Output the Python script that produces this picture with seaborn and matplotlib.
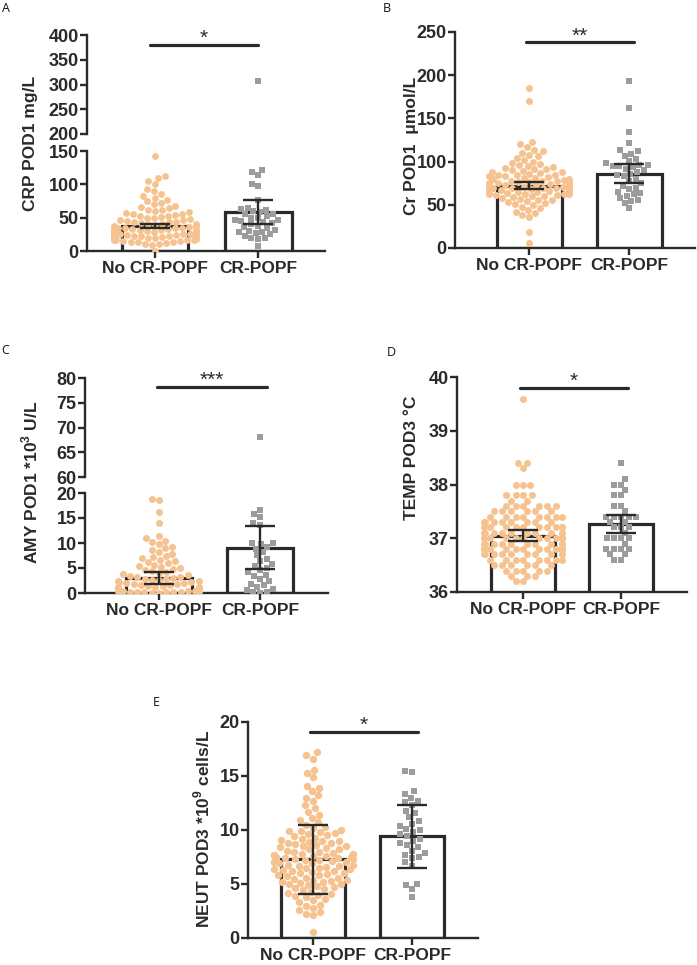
import numpy as np
import pandas as pd
import matplotlib
matplotlib.use('Agg')
import matplotlib.pyplot as plt
import seaborn as sns

sns.set_theme(style='white')
plt.rcParams['font.family'] = ['Liberation Sans', 'DejaVu Sans']
plt.rcParams['font.weight'] = 'bold'
plt.rcParams['mathtext.fontset'] = 'custom'
plt.rcParams['mathtext.rm'] = 'Liberation Sans:bold'
plt.rcParams['mathtext.bf'] = 'Liberation Sans:bold'

# ---------------- data ----------------
groups = ['No CR-POPF', 'CR-POPF']

# A: CRP POD1 mg/L
crp_no = [142, 113, 110, 105, 101, 93, 90, 86, 83, 80, 77, 75, 72, 70, 68, 66, 64, 62, 61,
          60, 58, 57, 56, 55, 54, 53, 52, 51, 50, 49, 48, 47, 46, 45, 44, 44, 43, 42, 41, 40,
          40, 39, 38, 38, 37, 36, 36, 35, 35, 34, 34, 33, 33, 32, 32, 31, 31, 30, 30, 30, 29,
          29, 28, 28, 28, 27, 27, 26, 26, 26, 25, 25, 24, 24, 24, 23, 23, 22, 22, 22, 21, 21,
          20, 20, 19, 19, 18, 18, 17, 17, 16, 16, 15, 15, 14, 14, 13, 12, 11, 10, 9, 0]
crp_cr = [307, 122, 118, 114, 101, 97, 76, 65, 63, 62, 60, 58, 56, 55, 52, 50, 49, 47, 46,
          45, 44, 42, 40, 38, 36, 35, 32, 30, 29, 28, 27, 25, 22, 20, 19, 18, 8]
crp_mean = [38, 58]
crp_err = [3, 18]

# B: Cr POD1 umol/L
cr_no = [185, 170, 123, 120, 117, 114, 112, 110, 108, 106, 104, 102, 100, 98, 97, 96, 95, 94,
         93, 92, 91, 90, 89, 88, 88, 87, 86, 85, 85, 84, 83, 83, 82, 81, 81, 80, 80, 79, 78,
         78, 77, 77, 76, 76, 75, 75, 74, 74, 73, 73, 72, 72, 71, 71, 70, 70, 69, 69, 68, 68,
         67, 67, 66, 66, 65, 65, 64, 64, 63, 63, 62, 62, 61, 61, 60, 60, 59, 58, 57, 56, 55,
         54, 53, 52, 51, 50, 48, 46, 44, 42, 40, 38, 36, 19, 6]
cr_cr = [193, 162, 134, 121, 113, 112, 109, 107, 103, 101, 98, 96, 96, 95, 95, 94, 92, 90,
         88, 86, 85, 83, 80, 78, 75, 72, 70, 68, 65, 64, 62, 60, 58, 56, 54, 52, 46]
cr_mean = [72, 86]
cr_err = [4, 11]

# C: AMY POD1 *10^3 U/L
amy_no = [18.9, 18.7, 16.3, 14.0, 11.5, 11.0, 10.5, 10.2, 9.8, 9.3, 9.0, 8.6, 8.2, 7.9, 7.5,
          7.2, 7.0, 6.7, 6.4, 6.2, 6.0, 5.7, 5.5, 5.3, 5.0, 4.8, 4.6, 4.4, 4.2, 4.0, 3.8, 3.6,
          3.5, 3.3, 3.2, 3.0, 2.9, 2.8, 2.7, 2.6, 2.5, 2.4, 2.3, 2.2, 2.1, 2.0, 1.9, 1.8, 1.7,
          1.6, 1.5, 1.4, 1.3, 1.2, 1.2, 1.1, 1.0, 1.0, 0.9, 0.9, 0.8, 0.8, 0.8, 0.7, 0.7, 0.6,
          0.6, 0.6, 0.5, 0.5, 0.5, 0.4, 0.4, 0.4, 0.3, 0.3, 0.3, 0.2, 0.2, 0.2, 0.1, 0.1]
amy_cr = [68, 16.7, 15.9, 15.3, 14.0, 13.7, 10.1, 10.0, 9.9, 9.3, 8.9, 8.2, 7.6, 6.8, 6.4,
          5.9, 5.5, 5.0, 4.7, 4.2, 3.7, 3.4, 2.9, 2.5, 1.9, 1.6, 1.3, 0.9, 0.6, 0.3, 0.2, 0.1]
amy_mean = [3.1, 9.1]
amy_err = [1.2, 4.3]

# D: TEMP POD3 degC (value levels and how many dots sit on each)
temp_no_levels = [39.6, 38.4, 38.3, 38.0, 37.8, 37.7, 37.6, 37.5, 37.4, 37.3, 37.2, 37.1,
                  37.0, 36.9, 36.8, 36.7, 36.6, 36.5, 36.4, 36.3, 36.2]
temp_no_counts = [1, 2, 1, 3, 4, 2, 6, 6, 8, 8, 10, 10, 12, 10, 13, 10, 8, 6, 5, 3, 2]
temp_cr_levels = [38.4, 38.1, 38.0, 37.9, 37.8, 37.6, 37.5, 37.4, 37.3, 37.2, 37.1, 37.0,
                  36.9, 36.8, 36.7, 36.6]
temp_cr_counts = [1, 1, 2, 1, 2, 2, 1, 5, 2, 3, 1, 4, 1, 4, 2, 2]
temp_mean = [37.05, 37.27]
temp_err = [0.11, 0.17]

# E: NEUT POD3 *10^9 cells/L
neut_no = [17.2, 16.9, 16.6, 15.6, 15.3, 14.9, 14.1, 13.9, 13.6, 13.2, 13.0, 12.7, 12.3, 12.0,
           11.7, 11.4, 11.1, 10.9, 10.7, 10.5, 10.3, 10.2, 10.0, 9.9, 9.9, 9.8, 9.7, 9.6, 9.5,
           9.4, 9.3, 9.2, 9.1, 9.0, 9.0, 8.9, 8.8, 8.8, 8.7, 8.6, 8.5, 8.5, 8.4, 8.3, 8.2, 8.2,
           8.1, 8.0, 8.0, 7.9, 7.8, 7.8, 7.7, 7.7, 7.6, 7.6, 7.5, 7.5, 7.4, 7.4, 7.3, 7.3, 7.2,
           7.2, 7.1, 7.0, 7.0, 6.9, 6.9, 6.8, 6.8, 6.7, 6.7, 6.6, 6.5, 6.5, 6.4, 6.4, 6.3, 6.2,
           6.2, 6.1, 6.0, 6.0, 5.9, 5.8, 5.8, 5.7, 5.6, 5.6, 5.5, 5.4, 5.4, 5.3, 5.2, 5.2, 5.1,
           5.0, 5.0, 4.9, 4.8, 4.7, 4.6, 4.5, 4.4, 4.3, 4.2, 4.1, 4.0, 3.9, 3.8, 3.6, 3.5, 3.3,
           3.1, 3.0, 2.8, 2.6, 2.4, 2.2, 2.1, 0.6]
neut_cr = [15.5, 15.4, 13.6, 13.3, 13.0, 12.7, 12.6, 12.3, 11.8, 11.6, 11.2, 10.8, 10.6, 10.4,
           10.1, 10.0, 9.8, 9.6, 9.4, 9.2, 9.0, 8.8, 8.6, 8.4, 8.1, 7.9, 7.7, 7.5, 7.4, 7.0,
           6.7, 5.0, 4.9, 4.5, 3.8]
neut_mean = [7.3, 9.4]
neut_err = [3.2, 2.9]

sig_labels = ['*', '**', '***', '*', '*']
sig_heights = [380, 238, 78.2, 39.8, 19.1]

# ---------------- styling ----------------
ORANGE = '#F6C28F'
GRAY = '#9C9C9C'
DARK = '#2a2a2a'
W, H = 697, 965

fig = plt.figure(figsize=(W / 100, H / 100), dpi=100)


def ax_at(x0, y0, x1, y1):
    return fig.add_axes([x0 / W, 1 - y1 / H, (x1 - x0) / W, (y1 - y0) / H])


def make_df(no_vals, cr_vals):
    return pd.DataFrame({
        'group': [groups[0]] * len(no_vals) + [groups[1]] * len(cr_vals),
        'value': list(no_vals) + list(cr_vals),
    })


def style_axis(ax, xlim, ylim, yticks, show_x=True):
    ax.set_xlim(*xlim)
    ax.set_ylim(*ylim)
    ax.set_yticks(yticks)
    ax.set_xlabel('')
    ax.set_ylabel('')
    for s in ['top', 'right']:
        ax.spines[s].set_visible(False)
    ax.spines['left'].set_linewidth(1.7)
    ax.spines['left'].set_color(DARK)
    ax.tick_params(axis='y', left=True, length=5, width=1.7, color=DARK,
                   labelsize=13, labelcolor=DARK, pad=1)
    if show_x:
        ax.spines['bottom'].set_linewidth(1.7)
        ax.spines['bottom'].set_color(DARK)
        ax.tick_params(axis='x', bottom=True, length=5, width=1.7, color=DARK,
                       labelsize=12.5, labelcolor=DARK, pad=2)
    else:
        ax.spines['bottom'].set_visible(False)
        ax.tick_params(axis='x', bottom=False, labelbottom=False)
    for lab in ax.get_xticklabels() + ax.get_yticklabels():
        lab.set_fontweight('bold')
    ax.set_facecolor('none')


def draw_points(ax, df, size):
    sns.swarmplot(data=df[df.group == groups[0]], x='group', y='value', order=groups,
                  color=ORANGE, size=size, linewidth=0, marker='o', ax=ax,
                  warn_thresh=1.0, zorder=3)
    sns.swarmplot(data=df[df.group == groups[1]], x='group', y='value', order=groups,
                  color=GRAY, size=size * 0.95, linewidth=0, marker='s', ax=ax,
                  warn_thresh=1.0, zorder=3)


def draw_bars(ax, means, errs):
    sns.barplot(x=groups, y=means, order=groups, color='white', saturation=1,
                edgecolor=DARK, linewidth=2.3, width=0.65, errorbar=None, ax=ax, zorder=1)
    ax.errorbar(x=[0, 1], y=means, yerr=errs, fmt='none', ecolor=DARK,
                elinewidth=1.7, capsize=11, capthick=1.7, zorder=5)


def draw_sig(ax, label, y, x0, x1):
    ax.plot([x0, x1], [y, y], color=DARK, lw=2.3, clip_on=False, zorder=6)
    ax.annotate(label, ((x0 + x1) / 2, y), xytext=(0, 0.5), textcoords='offset points',
                ha='center', va='baseline', fontsize=15, fontweight='normal',
                color=DARK, annotation_clip=False)


# ---- Panel A (broken axis) ----
dfA = make_df(crp_no, crp_cr)
axA_lo = ax_at(87, 151, 325, 251)
axA_hi = ax_at(87, 35, 325, 134)
draw_bars(axA_lo, crp_mean, crp_err)
draw_points(axA_lo, dfA, 4.9)
draw_points(axA_hi, dfA, 4.9)
style_axis(axA_lo, (-0.66, 1.65), (0, 150), [0, 50, 100, 150])
style_axis(axA_hi, (-0.66, 1.65), (200, 400), [200, 250, 300, 350, 400], show_x=False)
draw_sig(axA_hi, sig_labels[0], sig_heights[0], -0.05, 1.0)

# ---- Panel B ----
dfB = make_df(cr_no, cr_cr)
axB = ax_at(455, 32, 695, 248)
draw_bars(axB, cr_mean, cr_err)
draw_points(axB, dfB, 5.0)
style_axis(axB, (-0.74, 1.66), (0, 250), [0, 50, 100, 150, 200, 250])
draw_sig(axB, sig_labels[1], sig_heights[1], -0.03, 1.05)

# ---- Panel C (broken axis) ----
dfC = make_df(amy_no, amy_cr)
axC_lo = ax_at(85, 493, 328, 593)
axC_hi = ax_at(85, 378, 328, 477)
draw_bars(axC_lo, amy_mean, amy_err)
draw_points(axC_lo, dfC, 5.0)
draw_points(axC_hi, dfC, 5.0)
style_axis(axC_lo, (-0.73, 1.67), (0, 20), [0, 5, 10, 15, 20])
style_axis(axC_hi, (-0.73, 1.67), (60, 80), [60, 65, 70, 75, 80], show_x=False)
draw_sig(axC_hi, sig_labels[2], sig_heights[2], -0.02, 1.07)

# ---- Panel D ----
dfD = make_df(np.repeat(temp_no_levels, temp_no_counts), np.repeat(temp_cr_levels, temp_cr_counts))
axD = ax_at(457, 377, 687, 592)
draw_bars(axD, temp_mean, temp_err)
draw_points(axD, dfD, 5.0)
style_axis(axD, (-0.67, 1.67), (36, 40), [36, 37, 38, 39, 40])
draw_sig(axD, sig_labels[3], sig_heights[3], -0.03, 1.07)

# ---- Panel E ----
dfE = make_df(neut_no, neut_cr)
axE = ax_at(248, 722, 478, 938)
draw_bars(axE, neut_mean, neut_err)
draw_points(axE, dfE, 5.3)
style_axis(axE, (-0.66, 1.67), (0, 20), [0, 5, 10, 15, 20])
draw_sig(axE, sig_labels[4], sig_heights[4], -0.03, 1.06)

# ---- y labels ----
ylab_kw = dict(rotation=90, ha='center', va='center', fontsize=12.5, fontweight='bold', color=DARK)
fig.text(31 / W, 1 - 143 / H, 'CRP POD1 mg/L', **ylab_kw)
fig.text(411 / W, 1 - 146 / H, 'Cr POD1  \u03bcmol/L', **ylab_kw)
fig.text(30 / W, 1 - 482 / H, r'AMY POD1 *10$^{\mathbf{3}}$ U/L', **ylab_kw)
fig.text(412 / W, 1 - 458 / H, 'TEMP POD3 \u00b0C', **ylab_kw)
fig.text(202 / W, 1 - 829 / H, r'NEUT POD3 *10$^{\mathbf{9}}$ cells/L', **ylab_kw)

# ---- panel letters ----
let_kw = dict(ha='left', va='center', fontsize=9, fontweight='normal', color='#111111',
              family=['Open Sans', 'DejaVu Sans'])
fig.text(2 / W, 1 - 9 / H, 'A', **let_kw)
fig.text(383 / W, 1 - 8 / H, 'B', **let_kw)
fig.text(1 / W, 1 - 350 / H, 'C', **let_kw)
fig.text(387 / W, 1 - 353 / H, 'D', **let_kw)
fig.text(153 / W, 1 - 702 / H, 'E', **let_kw)

fig.savefig('out.png', dpi=100, facecolor='white')
